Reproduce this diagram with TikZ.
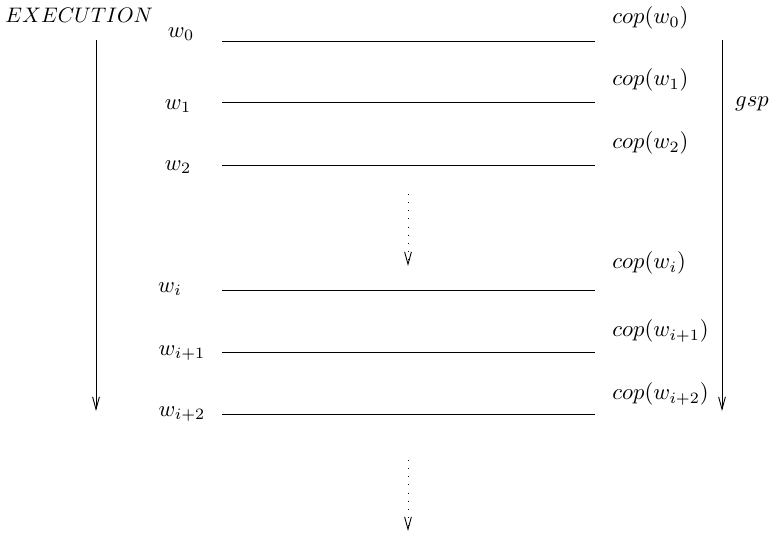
\documentclass[tikz,border=0pt]{standalone}
\usetikzlibrary{arrows.meta}
\begin{document}
\begin{tikzpicture}[x=0.4425pt,y=-0.4425pt,
  lbl/.style={inner sep=0pt},
  cl/.style={inner sep=0pt,anchor=west},
  lev/.style={line width=0.4pt},
  arr/.style={line width=0.4pt,-{Straight Barb[length=5.5pt,width=3pt,line width=0.4pt]}},
  darr/.style={line width=0.4pt,dash pattern=on 0.4pt off 3.2pt,-{Straight Barb[length=5.5pt,width=3pt,line width=0.4pt]}}]
\useasboundingbox (0,0) rectangle (778,535);
\node[lbl,anchor=west,scale=0.93] (exec) at (5,15) {$EXECUTION$};
% levels
\foreach \n/\y in {0/41,1/102,2/165,i/290,ip/352,ipp/414}{
  \coordinate (a\n) at (222,\y);
  \coordinate (b\n) at (595,\y);
  \draw[lev] (a\n) -- (b\n);
}
\node[lbl] (w0) at (181,34) {$w_0$};
\node[lbl] (w1) at (178,106) {$w_1$};
\node[lbl] (w2) at (178,167) {$w_2$};
\node[lbl] (wi) at (170,289) {$w_i$};
\node[lbl] (wip) at (182,353) {$w_{i+1}$};
\node[lbl] (wipp) at (182,414) {$w_{i+2}$};
\node[cl] (c0) at (612,18) {$cop(w_0)$};
\node[cl] (c1) at (612,80) {$cop(w_1)$};
\node[cl] (c2) at (612,143) {$cop(w_2)$};
\node[cl] (ci) at (612,263) {$cop(w_i)$};
\node[cl] (cip) at (612,331) {$cop(w_{i+1})$};
\node[cl] (cipp) at (612,394) {$cop(w_{i+2})$};
\node[lbl] (gsp) at (752,104) {$gsp$};
% arrows
\coordinate (L1) at (96,40); \coordinate (L2) at (96,411);
\draw[arr] (L1) -- (L2);
\coordinate (R1) at (722,40); \coordinate (R2) at (722,411);
\draw[arr] (R1) -- (R2);
\coordinate (D1) at (408,194); \coordinate (D2) at (408,266);
\draw[darr] (D1) -- (D2);
\coordinate (E1) at (408,460); \coordinate (E2) at (408,531);
\draw[darr] (E1) -- (E2);
\end{tikzpicture}
\end{document}
